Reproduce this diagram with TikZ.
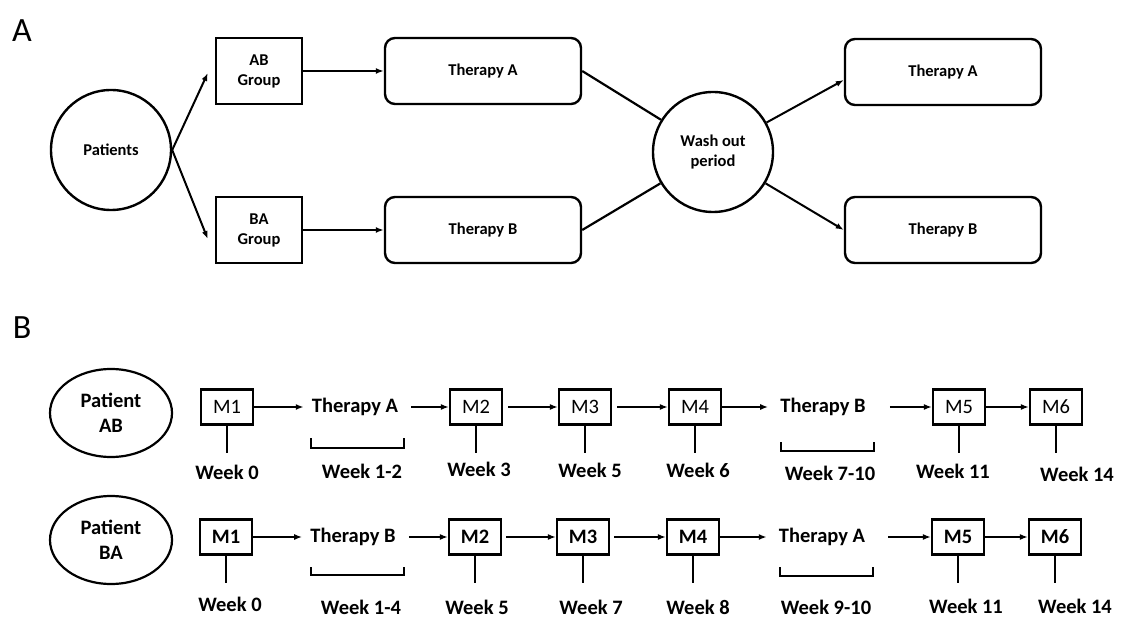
\documentclass[tikz,border=0pt]{standalone}
\usepackage{fontspec}
\setmainfont{Carlito}
\usetikzlibrary{arrows.meta, shapes.geometric, calc}

\tikzset{
  fA/.style={font=\fontsize{16.5}{20}\selectfont\bfseries},
  fB/.style={font=\fontsize{20.5}{25}\selectfont\bfseries},
  grp/.style={draw, line width=2.4pt, minimum width=86pt, minimum height=66pt, inner sep=0pt, align=center, fA},
  ther/.style={draw, line width=2.4pt, rounded corners=10pt, minimum width=196pt, minimum height=66pt, inner sep=0pt, fA},
  rnd/.style={draw, circle, line width=2.4pt, minimum size=120pt, inner sep=0pt, align=center, fA},
  pat/.style={draw, ellipse, line width=2.2pt, minimum width=122pt, minimum height=88pt, inner sep=0pt, align=center, fB},
  mbox/.style={draw, line width=2.2pt, minimum width=52pt, minimum height=35pt, inner sep=0pt, font=\fontsize{20.5}{25}\selectfont},
  mboxb/.style={mbox, font=\fontsize{20.5}{25}\selectfont\bfseries},
  tx/.style={inner xsep=8pt, inner ysep=0pt, fB},
  wk/.style={fB},
  arr/.style={-{Latex[length=8pt,width=6pt]}, line width=2pt},
  tick/.style={line width=2pt},
  brk/.style={line width=2.2pt},
}

\begin{document}
\begin{tikzpicture}[x=1pt, y=-1pt]
    \useasboundingbox (0,0) rectangle (1123,617);
    \node[font=\fontsize{34}{40}\selectfont] (labA) at (22,31) {A};
    \node[font=\fontsize{34}{40}\selectfont] (labB) at (22,328) {B};

    \node[rnd] (pat) at (111,150) {Patients};
    \node[grp] (ab) at (259,71) {AB\\Group};
    \node[grp] (ba) at (259,230) {BA\\Group};
    \node[ther] (tA) at (483,71) {Therapy A};
    \node[ther] (tB) at (483,230) {Therapy B};
    \node[rnd] (wash) at (713,152) {Wash out\\period};
    \node[ther] (tA2) at (943,72) {Therapy A};
    \node[ther] (tB2) at (943,230) {Therapy B};
    \draw[arr] (pat.east) -- ([xshift=-7pt,yshift=-2pt]ab.west);
    \draw[arr] (pat.east) -- ([xshift=-7pt,yshift=-9pt]ba.west);
    \draw[arr] (ab) -- (tA);
    \draw[arr] (ba) -- (tB);
    \draw[line width=2.2pt] (tA.east) -- (wash);
    \draw[line width=2.2pt] (tB.east) -- (wash);
    \draw[arr] (wash) -- ([yshift=-8pt]tA2.west);
    \draw[arr] (wash) -- (tB2.west);

    \node[pat] (pAB) at (111,413) {Patient\\AB};
    \node[mbox] (m1a) at (227,407) {M1};
    \node[tx] (tha) at (355,407) {Therapy A};
    \node[mbox] (m2a) at (476,407) {M2};
    \node[mbox] (m3a) at (585,407) {M3};
    \node[mbox] (m4a) at (695,407) {M4};
    \node[tx] (thb) at (823,407) {Therapy B};
    \node[mbox] (m5a) at (959,407) {M5};
    \node[mbox] (m6a) at (1056,407) {M6};
    \draw[arr] (m1a) -- (tha);
    \draw[arr, shorten <=5pt] (tha) -- (m2a);
    \draw[arr, shorten <=5pt] (m2a) -- (m3a);
    \draw[arr, shorten <=5pt] (m3a) -- (m4a);
    \draw[arr, shorten >=4pt] (m4a) -- (thb);
    \draw[arr, shorten <=16pt] (thb) -- (m5a);
    \draw[arr] (m5a) -- (m6a);
    \draw[tick] (m1a.south) -- ++(0,27);
    \draw[tick] (m2a.south) -- ++(0,27);
    \draw[tick] (m3a.south) -- ++(0,27);
    \draw[tick] (m4a.south) -- ++(0,27);
    \draw[tick] (m5a.south) -- ++(0,27);
    \draw[tick] (m6a.south) -- ++(0,27);
    \draw[brk] (311,438) -- (311,448) -- (404,448) -- (404,438);
    \draw[brk] (781,442) -- (781,451) -- (874,451) -- (874,442);
    \node[wk] (w0a) at (227,472) {Week 0};
    \node[wk] (w12a) at (362,471) {Week 1-2};
    \node[wk] (w3a) at (479,469) {Week 3};
    \node[wk] (w5a) at (590,470) {Week 5};
    \node[wk] (w6a) at (698,470) {Week 6};
    \node[wk] (w710a) at (830,473) {Week 7-10};
    \node[wk] (w11a) at (953,471) {Week 11};
    \node[wk] (w14a) at (1077,474) {Week 14};

    \node[pat] (pBA) at (111,540) {Patient\\BA};
    \node[mboxb] (m1b) at (226,537) {M1};
    \node[tx] (thbb) at (353,537) {Therapy B};
    \node[mboxb] (m2b) at (475,537) {M2};
    \node[mboxb] (m3b) at (583,537) {M3};
    \node[mboxb] (m4b) at (693,537) {M4};
    \node[tx] (thab) at (822,537) {Therapy A};
    \node[mboxb] (m5b) at (958,537) {M5};
    \node[mboxb] (m6b) at (1055,537) {M6};
    \draw[arr] (m1b) -- (thbb);
    \draw[arr, shorten <=5pt] (thbb) -- (m2b);
    \draw[arr, shorten <=4pt] (m2b) -- (m3b);
    \draw[arr, shorten <=4pt] (m3b) -- (m4b);
    \draw[arr, shorten >=4pt] (m4b) -- (thab);
    \draw[arr, shorten <=15pt] (thab) -- (m5b);
    \draw[arr] (m5b) -- (m6b);
    \draw[tick] (m1b.south) -- ++(0,27);
    \draw[tick] (m2b.south) -- ++(0,27);
    \draw[tick] (m3b.south) -- ++(0,27);
    \draw[tick] (m4b.south) -- ++(0,27);
    \draw[tick] (m5b.south) -- ++(0,27);
    \draw[tick] (m6b.south) -- ++(0,27);
    \draw[brk] (311,567) -- (311,575) -- (404,575) -- (404,567);
    \draw[brk] (780,567) -- (780,576) -- (873,576) -- (873,567);
    \node[wk] (w0b) at (230,604) {Week 0};
    \node[wk] (w14b) at (361,607) {Week 1-4};
    \node[wk] (w5b) at (477,607) {Week 5};
    \node[wk] (w7b) at (591,607) {Week 7};
    \node[wk] (w8b) at (698,607) {Week 8};
    \node[wk] (w910b) at (826,607) {Week 9-10};
    \node[wk] (w11b) at (966,606) {Week 11};
    \node[wk] (w14b2) at (1075,606) {Week 14};
\end{tikzpicture}
\end{document}
